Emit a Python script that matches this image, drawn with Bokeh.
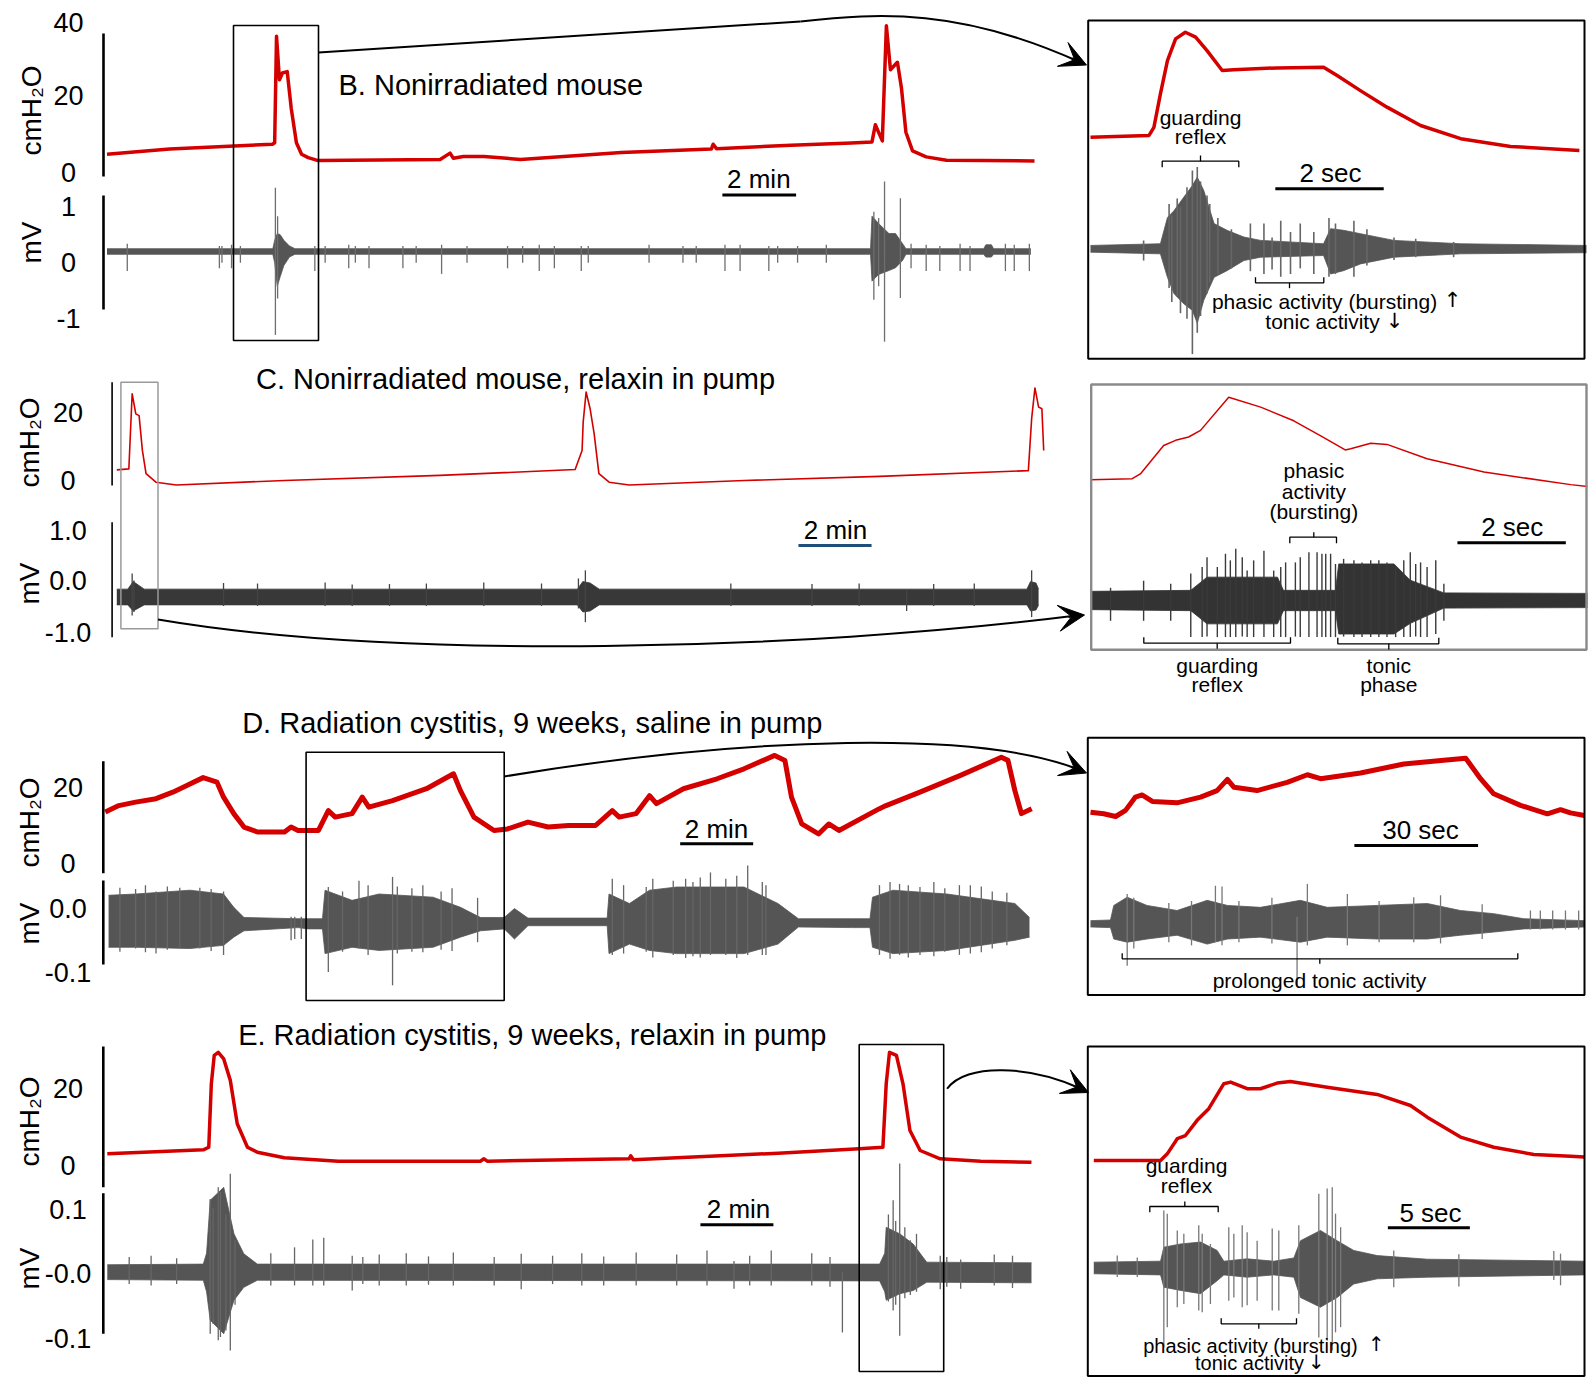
import numpy as np
from bokeh.plotting import figure
from bokeh.models import Range1d, Arrow, VeeHead
from bokeh.embed import file_html
from bokeh.resources import INLINE
from bokeh.core.properties import value

# ---------------------------------------------------------------- data
# Panel B (nonirradiated): time in min, pressure in cmH2O, EMG in mV
B_t = [0, 1.70, 4.49, 4.55, 4.60, 4.68, 4.76, 4.89, 5.00, 5.14, 5.28, 5.46, 5.73, 9.04, 9.31, 9.40, 9.67, 10.23, 11.22, 13.96,
       16.40, 16.45, 16.54, 18.56, 20.20, 20.76, 20.85, 21.04, 21.15, 21.26, 21.45, 21.56, 21.68, 21.86, 22.23, 22.78, 25.17]
B_p = [4.9, 6.3, 7.6, 8.0, 36.6, 24.9, 26.7, 27.1, 17.2, 8.0, 4.9, 4.0, 3.2, 3.5, 5.2, 3.8, 4.3, 4.3, 3.5, 5.4,
       6.3, 7.6, 6.4, 7.3, 7.9, 8.2, 12.8, 8.5, 39.4, 27.6, 29.6, 22.6, 10.8, 5.8, 4.2, 3.3, 3.1]
Bm_t = [0, 4.50, 4.55, 4.62, 4.70, 4.80, 4.95, 5.10, 20.72, 20.76, 20.94, 21.22, 21.40, 21.59, 21.68, 23.79, 23.85, 24.00, 24.06, 25.07]
Bm_hi = [0.05, 0.05, 0.2, 0.32, 0.30, 0.2, 0.1, 0.05, 0.05, 0.63, 0.50, 0.32, 0.32, 0.14, 0.05, 0.05, 0.12, 0.12, 0.05, 0.05]
Bm_lo = [-0.05, -0.05, -0.2, -0.62, -0.45, -0.25, -0.1, -0.05, -0.05, -0.53, -0.41, -0.34, -0.29, -0.16, -0.05, -0.05, -0.1, -0.1, -0.05, -0.05]
Bs_t = [0.55, 3.05, 3.12, 3.38, 3.62, 4.57, 4.63, 5.64, 5.92, 6.56, 6.74, 7.11, 8.03, 8.39, 9.08, 9.77, 10.87, 11.28, 11.73, 12.14,
        12.87, 13.06, 14.71, 15.63, 15.99, 16.77, 17.18, 17.96, 18.20, 18.74, 19.52, 20.81, 20.94, 21.10, 21.53, 21.82, 22.23, 22.60, 23.15, 23.42,
        24.38, 24.62, 25.03]
Bs_hi = [0.14, 0.1, 0.1, 0.12, 0.1, 1.14, 0.63, 0.1, 0.1, 0.12, 0.1, 0.1, 0.1, 0.1, 0.12, 0.1, 0.1, 0.1, 0.12, 0.1,
         0.1, 0.1, 0.12, 0.1, 0.1, 0.12, 0.12, 0.1, 0.1, 0.1, 0.12, 0.71, 0.6, 1.25, 0.95, 0.14, 0.12, 0.1, 0.14, 0.1,
         0.14, 0.12, 0.14]
Bs_lo = [-0.35, -0.3, -0.2, -0.3, -0.2, -1.49, -0.84, -0.35, -0.2, -0.3, -0.2, -0.3, -0.3, -0.2, -0.4, -0.2, -0.3, -0.2, -0.35, -0.3,
         -0.35, -0.2, -0.2, -0.2, -0.2, -0.35, -0.35, -0.35, -0.2, -0.2, -0.2, -0.86, -0.62, -1.61, -0.83, -0.3, -0.35, -0.35, -0.35, -0.35,
         -0.35, -0.35, -0.35]
# B inset: time in s
bI_t = [0, 1.08, 1.17, 1.29, 1.42, 1.57, 1.75, 1.94, 2.15, 2.43, 2.64, 3.44, 4.30, 4.55, 4.98, 5.47, 6.09, 6.83, 7.75, 9.02]
bI_p = [8.0, 8.5, 10.7, 19.8, 28.9, 34.8, 36.6, 35.3, 31.6, 26.2, 26.4, 26.9, 27.1, 24.8, 20.7, 16.2, 11.2, 7.6, 5.5, 4.4]
bIm_t = [0, 1.29, 1.42, 1.54, 1.72, 1.88, 1.97, 2.09, 2.28, 2.52, 2.83, 3.14, 4.30, 4.43, 4.67, 4.98, 5.60, 6.83, 9.15]
bIm_hi = [0.06, 0.09, 0.56, 0.68, 0.92, 1.13, 1.28, 1.04, 0.45, 0.33, 0.21, 0.15, 0.09, 0.36, 0.33, 0.27, 0.15, 0.09, 0.06]
bIm_lo = [-0.06, -0.09, -0.51, -0.80, -0.98, -1.10, -1.33, -0.92, -0.51, -0.39, -0.21, -0.15, -0.12, -0.45, -0.39, -0.27, -0.15, -0.09, -0.07]
bIs_t = [0.98, 1.45, 1.50, 1.60, 1.66, 1.78, 1.88, 1.97, 2.03, 2.15, 2.20, 2.35, 2.60, 2.95, 3.20, 3.35, 3.51, 3.69, 3.87, 4.12,
         4.40, 4.52, 4.86, 5.10, 5.60, 6.00, 6.70]
bIs_hi = [0.15, 0.8, 0.6, 0.9, 0.75, 1.1, 1.40, 1.46, 1.2, 0.95, 0.8, 0.55, 0.35, 0.45, 0.45, 0.2, 0.5, 0.3, 0.45, 0.3,
          0.55, 0.45, 0.5, 0.35, 0.2, 0.18, 0.12]
bIs_lo = [-0.21, -0.7, -0.95, -0.85, -1.15, -1.25, -1.88, -1.5, -1.2, -0.8, -0.6, -0.45, -0.35, -0.4, -0.45, -0.37, -0.5, -0.45, -0.35, -0.45,
          -0.5, -0.45, -0.5, -0.3, -0.2, -0.15, -0.15]

# Panel C (nonirradiated, relaxin)
C_t = [0, 0.33, 0.42, 0.52, 0.61, 0.70, 0.80, 1.07, 1.63, 4.59, 8.84, 12.54, 12.73, 12.76, 12.84, 12.95, 13.06, 13.19, 13.47, 14.02,
       17.17, 20.87, 24.94, 25.03, 25.12, 25.22, 25.31, 25.36]
C_p = [3.1, 3.4, 25.4, 19.5, 19.0, 8.8, 2.0, -0.5, -1.3, 0.0, 1.5, 3.2, 8.8, 17.1, 25.9, 21.0, 13.7, 2.0, -0.5, -1.3,
       0.0, 1.2, 2.9, 18.1, 27.1, 21.5, 21.0, 8.8]
Cm_t = [0, 0.30, 0.45, 0.75, 12.60, 12.75, 12.95, 13.2, 24.90, 25.0, 25.15, 25.22]
Cm_hi = [-0.17, -0.17, -0.02, -0.17, -0.17, -0.02, -0.05, -0.17, -0.17, -0.02, -0.05, -0.17]
Cm_lo = [-0.48, -0.48, -0.6, -0.48, -0.48, -0.62, -0.6, -0.48, -0.48, -0.6, -0.58, -0.48]
Cs_t = [0.42, 0.47, 2.92, 3.85, 5.70, 6.44, 7.46, 8.47, 10.04, 11.62, 12.63, 12.82, 16.80, 19.02, 20.31, 21.61, 22.35, 23.46, 25.03]
Cs_hi = [0.14, 0.0, -0.05, -0.06, -0.04, -0.08, -0.07, -0.06, -0.04, -0.06, 0.04, 0.2, -0.06, -0.07, -0.06, -0.2, -0.07, -0.06, 0.2]
Cs_lo = [-0.69, -0.62, -0.5, -0.5, -0.5, -0.5, -0.5, -0.5, -0.5, -0.5, -0.55, -0.82, -0.5, -0.5, -0.5, -0.6, -0.5, -0.5, -0.72]
# C inset
cI_t = [0, 0.77, 0.92, 1.35, 1.57, 1.81, 2.03, 2.55, 3.14, 3.75, 4.24, 4.70, 4.80, 5.17, 5.47, 6.21, 7.26, 8.86, 9.17]
cI_p = [3.0, 3.3, 4.6, 12.3, 13.7, 14.6, 16.4, 25.4, 22.7, 19.0, 15.0, 11.1, 11.4, 12.9, 12.6, 8.7, 5.1, 1.7, 1.2]
cIm_t = [0, 1.85, 2.15, 3.45, 3.56, 4.52, 4.58, 5.60, 5.90, 6.52, 9.17]
cIm_hi = [0.18, 0.2, 0.46, 0.46, 0.2, 0.2, 0.72, 0.72, 0.4, 0.15, 0.14]
cIm_lo = [-0.18, -0.2, -0.46, -0.46, -0.2, -0.2, -0.66, -0.66, -0.45, -0.15, -0.14]
cIs_t = [0.37, 0.98, 1.48, 1.85, 2.06, 2.15, 2.34, 2.49, 2.58, 2.68, 2.80, 2.89, 3.01, 3.20, 3.38, 3.51, 3.60, 3.78, 3.87, 4.03,
         4.18, 4.27, 4.34, 4.43, 4.52, 4.67, 4.86, 5.01, 5.17, 5.32, 5.47, 5.63, 5.78, 5.90, 6.00, 6.09, 6.21, 6.37, 6.52]
cIs_hi = [0.25, 0.39, 0.33, 0.53, 0.66, 0.85, 0.66, 0.92, 0.79, 1.02, 0.85, 0.59, 0.79, 0.98, 0.59, 0.66, 0.75, 0.75, 0.85, 0.95,
          0.95, 0.92, 0.92, 0.92, 0.72, 0.82, 0.79, 0.75, 0.79, 0.79, 0.75, 0.66, 0.79, 0.95, 0.72, 0.75, 0.66, 0.79, 0.33]
cIs_lo = [-0.40, -0.40, -0.40, -0.72, -0.72, -0.71, -0.72, -0.72, -0.72, -0.72, -0.71, -0.72, -0.72, -0.72, -0.72, -0.72, -0.72, -0.71, -0.72, -0.72,
          -0.72, -0.72, -0.72, -0.72, -0.72, -0.71, -0.72, -0.72, -0.72, -0.72, -0.72, -0.72, -0.72, -0.72, -0.71, -0.72, -0.72, -0.66, -0.40]

# Panel D (radiation cystitis, saline)
D_t = [0, 0.37, 0.83, 1.39, 1.85, 2.22, 2.68, 3.06, 3.24, 3.52, 3.80, 4.17, 4.91, 5.09, 5.28, 5.84, 6.11, 6.30, 6.76, 7.04,
       7.22, 7.87, 8.80, 9.54, 9.73, 10.10, 10.65, 11.02, 11.58, 12.13, 12.69, 13.43, 13.89, 14.08, 14.54, 14.91, 15.10, 15.84, 16.76, 17.50,
       18.34, 18.62, 18.80, 19.08, 19.54, 19.82, 20.10, 21.21, 21.39, 22.32, 23.43, 24.55, 24.73, 24.92, 25.10, 25.38]
D_p = [13.5, 15.2, 16.1, 17.0, 18.7, 20.4, 22.5, 21.3, 17.4, 13.1, 9.6, 8.3, 8.3, 9.6, 8.7, 8.7, 13.9, 12.2, 13.1, 17.4,
       14.8, 16.5, 19.6, 23.5, 19.1, 12.2, 8.7, 9.1, 10.9, 9.6, 10.0, 10.0, 13.9, 12.2, 13.1, 17.8, 15.7, 19.6, 22.2, 24.8,
       28.3, 27.0, 17.4, 10.4, 7.8, 10.4, 8.7, 14.4, 15.2, 18.7, 23.1, 27.8, 27.0, 19.1, 13.1, 14.4]
Dm_t = [0.09, 0.83, 2.32, 3.24, 3.52, 3.80, 5.28, 5.56, 5.95, 6.02, 6.76, 7.50, 8.98, 9.73, 10.28, 10.93, 11.21, 11.58, 13.43, 13.75,
        13.80, 14.36, 14.91, 15.65, 17.50, 18.43, 18.99, 20.47, 20.95, 21.02, 21.58, 23.06, 24.92, 25.32]
Dm_hi = [0.024, 0.026, 0.032, 0.026, 0.005, -0.011, -0.013, -0.013, -0.013, 0.032, 0.016, 0.026, 0.021, 0.005, -0.011, -0.011, 0.003, -0.012, -0.012, -0.012,
         0.026, 0.011, 0.032, 0.037, 0.037, 0.011, -0.013, -0.013, -0.013, 0.021, 0.032, 0.026, 0.011, -0.011]
Dm_lo = [-0.058, -0.058, -0.060, -0.055, -0.042, -0.032, -0.027, -0.029, -0.029, -0.068, -0.058, -0.063, -0.058, -0.042, -0.032, -0.029, -0.045, -0.024, -0.024, -0.024,
         -0.068, -0.053, -0.063, -0.068, -0.068, -0.053, -0.026, -0.027, -0.027, -0.058, -0.068, -0.063, -0.047, -0.042]
Ds_t = [0.40, 0.83, 1.10, 1.39, 1.70, 2.04, 2.59, 2.90, 3.24, 5.09, 5.19, 5.37, 6.11, 6.50, 6.95, 7.20, 7.87, 8.00, 8.40, 8.70,
        9.20, 9.50, 10.20, 13.89, 14.20, 14.82, 15.00, 15.56, 15.90, 16.10, 16.30, 16.58, 17.00, 17.30, 17.60, 18.00, 18.10, 21.21, 21.50, 21.76,
        22.00, 22.32, 22.70, 23.00, 23.40, 23.70, 24.00, 24.30, 24.70]
Ds_hi = [0.036, 0.034, 0.04, 0.03, 0.038, 0.036, 0.036, 0.034, 0.03, -0.01, -0.01, -0.01, 0.037, 0.03, 0.047, 0.04, 0.053, 0.038, 0.035, 0.04,
         0.03, 0.035, 0.02, 0.05, 0.04, 0.037, 0.05, 0.047, 0.05, 0.045, 0.052, 0.060, 0.05, 0.055, 0.071, 0.045, 0.04, 0.04, 0.045, 0.042,
         0.04, 0.037, 0.045, 0.035, 0.04, 0.04, 0.038, 0.03, 0.028]
Ds_lo = [-0.065, -0.06, -0.066, -0.068, -0.062, -0.06, -0.06, -0.064, -0.07, -0.047, -0.045, -0.045, -0.097, -0.065, -0.06, -0.07, -0.118, -0.068, -0.065, -0.066,
         -0.062, -0.064, -0.05, -0.07, -0.068, -0.065, -0.074, -0.07, -0.075, -0.072, -0.074, -0.07, -0.07, -0.075, -0.07, -0.07, -0.07, -0.07, -0.076, -0.07,
         -0.074, -0.07, -0.072, -0.065, -0.07, -0.068, -0.066, -0.06, -0.055]
# D inset
dI_t = [0, 3.2, 6.1, 8.5, 10.9, 12.5, 15.0, 21.0, 26.7, 30.7, 33.2, 34.8, 40.4, 47.7, 52.6, 55.8, 65.5, 76.0, 85.7, 91.0,
        94.6, 97.8, 104.3, 110.8, 114.0, 116.4, 119.8]
dI_p = [8.7, 8.25, 7.5, 9.2, 12.9, 13.5, 11.7, 11.3, 12.9, 14.7, 17.8, 15.6, 14.7, 17.0, 19.1, 18.0, 19.6, 22.1, 23.1, 23.7,
        18.0, 13.8, 10.6, 8.25, 9.4, 8.5, 7.8]
dIm_t = [0, 4.85, 5.65, 8.90, 13.7, 21.0, 28.3, 33.2, 41.2, 50.9, 57.4, 69.5, 81.7, 89.7, 97.8, 105.1, 119.8]
dIm_hi = [-0.016, -0.015, 0.008, 0.021, 0.008, 0.0, 0.016, 0.008, 0.005, 0.016, 0.005, 0.008, 0.011, 0.0, -0.005, -0.013, -0.016]
dIm_lo = [-0.026, -0.027, -0.045, -0.050, -0.045, -0.039, -0.053, -0.045, -0.042, -0.050, -0.042, -0.045, -0.045, -0.039, -0.034, -0.029, -0.026]
dIs_t = [8.9, 10.5, 19.0, 24.5, 30.3, 31.9, 36.0, 44.0, 50.1, 52.6, 62.3, 70.0, 78.4, 84.9, 95.0, 106.7, 109.1, 112.1, 115.2, 118.4]
dIs_hi = [0.026, 0.02, 0.012, 0.015, 0.039, 0.038, 0.015, 0.02, -0.01, 0.042, 0.026, 0.015, 0.021, 0.024, 0.01, 0.0, 0.0, 0.0, 0.0, 0.0]
dIs_lo = [-0.087, -0.06, -0.05, -0.055, -0.05, -0.055, -0.05, -0.052, -0.118, -0.055, -0.055, -0.05, -0.05, -0.052, -0.045, -0.03, -0.03, -0.03, -0.03, -0.03]

# Panel E (radiation cystitis, relaxin)
E_t = [0, 2.63, 2.78, 2.85, 2.93, 3.04, 3.19, 3.37, 3.56, 3.84, 4.11, 4.85, 6.33, 10.22, 10.32, 10.41, 14.30, 14.34, 14.41, 18.38,
       20.60, 21.25, 21.34, 21.43, 21.62, 21.80, 21.99, 22.27, 22.82, 23.93, 25.32]
E_p = [3.05, 4.09, 4.77, 21.3, 28.7, 29.5, 27.8, 22.2, 10.9, 4.77, 3.47, 2.0, 1.12, 1.12, 1.75, 1.12, 1.75, 2.53, 1.49, 3.21,
       4.35, 4.77, 21.3, 29.5, 28.7, 21.3, 9.13, 3.91, 1.75, 1.12, 0.86]
Em_t = [0, 2.63, 2.72, 2.82, 3.19, 3.47, 3.74, 4.11, 21.16, 21.30, 21.34, 21.71, 22.08, 22.45, 25.32]
Em_hi = [0.012, 0.013, 0.03, 0.112, 0.132, 0.06, 0.029, 0.013, 0.013, 0.03, 0.070, 0.06, 0.044, 0.016, 0.015]
Em_lo = [-0.011, -0.012, -0.03, -0.074, -0.095, -0.043, -0.023, -0.012, -0.013, -0.03, -0.043, -0.033, -0.028, -0.015, -0.016]
Es_t = [0.60, 1.20, 1.90, 2.82, 2.90, 3.04, 3.10, 3.25, 3.37, 3.50, 4.48, 5.13, 5.63, 5.93, 6.71, 7.00, 7.45, 8.19, 8.80, 9.48,
        10.60, 11.34, 12.20, 13.0, 13.60, 14.49, 15.6, 16.43, 17.17, 17.60, 18.19, 19.3, 19.80, 20.14, 21.40, 21.53, 21.60, 21.71, 21.85, 22.00,
        22.17, 22.82, 23.00, 23.38, 24.3, 24.80]
Es_hi = [0.024, 0.026, 0.022, 0.114, 0.10, 0.132, 0.125, 0.09, 0.153, 0.05, 0.03, 0.039, 0.051, 0.054, 0.026, 0.024, 0.028, 0.03, 0.025, 0.031,
         0.024, 0.029, 0.026, 0.03, 0.025, 0.031, 0.028, 0.034, 0.018, 0.026, 0.034, 0.03, 0.024, 0.0, 0.09, 0.112, 0.08, 0.169, 0.07, 0.05,
         0.06, 0.026, 0.024, 0.02, 0.028, 0.026]
Es_lo = [-0.018, -0.02, -0.018, -0.095, -0.08, -0.105, -0.10, -0.09, -0.121, -0.05, -0.02, -0.02, -0.02, -0.02, -0.028, -0.018, -0.02, -0.02, -0.019, -0.02,
         -0.02, -0.026, -0.018, -0.02, -0.02, -0.02, -0.02, -0.02, -0.025, -0.02, -0.02, -0.02, -0.022, -0.093, -0.045, -0.059, -0.05, -0.098, -0.04, -0.035,
         -0.03, -0.026, -0.022, -0.025, -0.02, -0.024]
# E inset
eI_t = [0, 4.07, 4.48, 5.09, 5.59, 6.30, 7.01, 7.93, 8.34, 9.35, 10.16, 11.18, 11.99, 14.23, 17.28, 19.31, 20.33, 22.36, 24.39, 26.83,
        29.07, 29.92]
eI_p = [4.5, 4.5, 6.6, 11.4, 12.4, 17.2, 20.9, 28.8, 29.3, 27.2, 27.2, 29.0, 29.5, 27.7, 25.4, 21.9, 18.2, 11.9, 8.7, 6.4,
        5.8, 5.6]
eIm_t = [0, 4.07, 4.27, 5.29, 6.51, 7.52, 7.93, 9.35, 10.98, 12.20, 12.60, 13.82, 14.84, 15.85, 17.28, 20.33, 29.92]
eIm_hi = [0.0078, 0.0093, 0.031, 0.036, 0.039, 0.026, 0.0093, 0.013, 0.0093, 0.0144, 0.041, 0.057, 0.041, 0.026, 0.018, 0.0124, 0.0093]
eIm_lo = [-0.0102, -0.0119, -0.031, -0.036, -0.041, -0.021, -0.0119, -0.0155, -0.0119, -0.0155, -0.047, -0.062, -0.047, -0.026, -0.018, -0.0155, -0.0119]
eIs_t = [1.43, 2.65, 4.27, 4.48, 5.09, 5.49, 6.40, 6.61, 7.11, 8.23, 8.54, 9.05, 9.35, 9.96, 10.88, 11.28, 12.50, 13.72, 14.23, 14.54,
         14.74, 15.05, 18.29, 22.26, 28.05, 28.46]
eIs_hi = [0.018, 0.015, 0.088, 0.083, 0.057, 0.052, 0.065, 0.052, 0.036, 0.062, 0.052, 0.065, 0.054, 0.041, 0.060, 0.057, 0.065, 0.114, 0.122, 0.124,
          0.083, 0.062, 0.026, 0.02, 0.025, 0.021]
eIs_lo = [-0.015, -0.015, -0.124, -0.093, -0.062, -0.057, -0.067, -0.070, -0.057, -0.052, -0.047, -0.062, -0.059, -0.052, -0.067, -0.067, -0.072, -0.109, -0.114, -0.129,
          -0.101, -0.093, -0.031, -0.03, -0.02, -0.028]

# tick labels
B_p_ticks = ["40", "20", "0"]
B_m_ticks = ["1", "0", "-1"]
C_p_ticks = ["20", "0"]
C_m_ticks = ["1.0", "0.0", "-1.0"]
D_p_ticks = ["20", "0"]
D_m_ticks = ["0.0", "-0.1"]
E_p_ticks = ["20", "0"]
E_m_ticks = ["0.1", "-0.0", "-0.1"]

# ---------------------------------------------------------------- layout
# layout space = figure pixels (1:1)
WR, HR = 1588, 1377
FONT = value("Liberation Sans")
AFONT = value("DejaVu Sans")
RED = "#d40000"

p = figure(width=WR, height=HR, x_range=Range1d(0, WR), y_range=Range1d(HR, 0),
           output_backend="svg", toolbar_location=None, min_border=0,
           x_axis_type=None, y_axis_type=None)
p.outline_line_color = None
p.background_fill_color = "white"
p.border_fill_color = "white"

xr, yr = {}, {}
def sx(name, x0, s):          # x0: layout position of data 0, s: layout px per unit
    xr[name] = Range1d(-x0 / s, (WR - x0) / s)
def sy(name, y0, s):          # y0: layout position of data 0, s: layout px per unit (upwards)
    yr[name] = Range1d((y0 - HR) / s, y0 / s)

sx("Bt", 106.5, 36.85); sy("Bp", 172, 3.725); sy("Bm", 251, 56)
sx("Ct", 116.3, 36.55); sy("Cp", 480, 3.415); sy("Cm", 580, 50.8)
sx("Dt", 104.8, 36.5); sy("Dp", 863.3, 3.83); sy("Dm", 910, 634)
sx("Et", 106.8, 36.5); sy("Ep", 1165, 3.835); sy("Em", 1272, 645)
sx("bt", 1090, 54.2); sy("bp", 166.1, 3.67); sy("bm", 248.3, 56)
sx("ct", 1090, 54.2); sy("cp", 490.4, 3.69); sy("cm", 600, 50.8)
sx("dt", 1090, 4.123); sy("dp", 843, 3.6); sy("dm", 910, 634)
sx("et", 1093.3, 16.4); sy("ep", 1174.2, 3.16); sy("em", 1266.7, 645)
p.extra_x_ranges = xr
p.extra_y_ranges = yr


def trace(tn, yn, t, v, w):
    p.line(t, v, x_range_name=tn, y_range_name=yn, line_color=RED, line_width=w, line_join="round")


def emg(tn, yn, et, hi, lo, st, shi, slo, band, spike, sw=1.3):
    p.varea(x=et, y1=lo, y2=hi, x_range_name=tn, y_range_name=yn, fill_color=band)
    p.line(et, hi, x_range_name=tn, y_range_name=yn, line_color=band, line_width=0.8)
    p.line(et, lo, x_range_name=tn, y_range_name=yn, line_color=band, line_width=0.8)
    p.segment(x0=st, y0=shi, x1=st, y1=slo, x_range_name=tn, y_range_name=yn,
              line_color=spike, line_width=sw)


trace("Bt", "Bp", B_t, B_p, 3.5)
emg("Bt", "Bm", Bm_t, Bm_hi, Bm_lo, Bs_t, Bs_hi, Bs_lo, "#555555", "#6e6e6e")
trace("bt", "bp", bI_t, bI_p, 3.5)
emg("bt", "bm", bIm_t, bIm_hi, bIm_lo, bIs_t, bIs_hi, bIs_lo, "#555555", "#666666", 1.6)

trace("Ct", "Cp", C_t, C_p, 1.6)
emg("Ct", "Cm", Cm_t, Cm_hi, Cm_lo, Cs_t, Cs_hi, Cs_lo, "#383838", "#444444")
trace("ct", "cp", cI_t, cI_p, 1.5)
emg("ct", "cm", cIm_t, cIm_hi, cIm_lo, cIs_t, cIs_hi, cIs_lo, "#333333", "#3a3a3a", 1.4)

trace("Dt", "Dp", D_t, D_p, 5)
emg("Dt", "Dm", Dm_t, Dm_hi, Dm_lo, Ds_t, Ds_hi, Ds_lo, "#555555", "#666666")
trace("dt", "dp", dI_t, dI_p, 5)
emg("dt", "dm", dIm_t, dIm_hi, dIm_lo, dIs_t, dIs_hi, dIs_lo, "#555555", "#777777")

trace("Et", "Ep", E_t, E_p, 3.5)
emg("Et", "Em", Em_t, Em_hi, Em_lo, Es_t, Es_hi, Es_lo, "#555555", "#666666")
trace("et", "ep", eI_t, eI_p, 3.5)
emg("et", "em", eIm_t, eIm_hi, eIm_lo, eIs_t, eIs_hi, eIs_lo, "#555555", "#777777")

# axis lines (left panels)
p.segment(x0=[103, 103, 102.8, 102.8, 102.8, 102.8], x1=[103, 103, 102.8, 102.8, 102.8, 102.8],
          y0=[33, 195, 760.7, 880, 1046, 1192.7], y1=[176, 309, 872.7, 964, 1186.7, 1333.3],
          line_color="black", line_width=2.6)
p.segment(x0=[111.6, 111.6], x1=[111.6, 111.6], y0=[381.7, 521.7], y1=[485, 636.7],
          line_color="black", line_width=1.6)

def txt(xs, ys, ss, size, align="center", angle=0.0, font=FONT):
    p.text(x=xs, y=ys, text=ss, text_font=font, text_font_size=size, text_align=align,
           text_baseline="middle", angle=angle, text_color="black")

# tick labels
txt([68] * 3, [22, 95, 172], B_p_ticks, "27px")
txt([68] * 3, [206, 262, 318], B_m_ticks, "27px")
txt([67.6] * 2, [411.7, 480], C_p_ticks, "27px")
txt([67.6] * 3, [530, 580, 631.7], C_m_ticks, "27px")
txt([67.6] * 2, [786.7, 863.3], D_p_ticks, "27px")
txt([67.6] * 2, [908.3, 971.7], D_m_ticks, "27px")
txt([67.6] * 2, [1088.3, 1165], E_p_ticks, "27px")
txt([67.6] * 3, [1209.3, 1273.3, 1338.3], E_m_ticks, "27px")
txt([31, 29, 29, 29], [110, 442, 822, 1121], ["cmH₂O"] * 4, "28px", angle=np.pi / 2)
txt([31, 29, 29, 29], [242, 583, 923, 1268], ["mV"] * 4, "28px", angle=np.pi / 2)

# titles
txt([338], [84], ["B. Nonirradiated mouse"], "29px", align="left")
txt([515, 531.8, 531.8], [378, 722, 1034],
    ["C. Nonirradiated mouse, relaxin in pump",
     "D. Radiation cystitis, 9 weeks, saline in pump",
     "E. Radiation cystitis, 9 weeks, relaxin in pump"], "29px")

# scale bars (in data units of each panel)
def bar(tn, t0, length, ypix, color="black"):
    p.segment(x0=[t0], x1=[t0 + length], y0=[ypix], y1=[ypix], x_range_name=tn,
              line_color=color, line_width=3)

bar("Bt", 16.70, 2, 194.4); txt([758.3], [178], ["2 min"], "26px")
bar("Ct", 18.65, 2, 545, "#1f4e79"); txt([835], [529], ["2 min"], "26px")
bar("Dt", 15.75, 2, 843.3); txt([716], [828.5], ["2 min"], "26px")
bar("Et", 16.25, 2, 1224.3); txt([738], [1208], ["2 min"], "26px")
bar("bt", 3.41, 2, 188.3); txt([1330], [172], ["2 sec"], "26px")
bar("ct", 6.77, 2, 542.3); txt([1511.7], [526], ["2 sec"], "26px")
bar("dt", 64.0, 30, 845); txt([1420], [829], ["30 sec"], "26px")
bar("et", 17.93, 5, 1227.3); txt([1430], [1212], ["5 sec"], "26px")

# boxes
def box(l, r, t, b, color, w):
    p.quad(left=[l], right=[r], top=[t], bottom=[b], fill_color=None, line_color=color, line_width=w)

box(233, 318, 25, 340, "black", 1.6)
box(120.4, 157.5, 381.7, 628.3, "#9a9a9a", 1.5)
box(305.6, 503.7, 751.7, 1000, "black", 1.6)
box(858.7, 943.2, 1044, 1371, "black", 1.6)
box(1087.7, 1584, 20, 358.3, "black", 2)
box(1090.7, 1586, 384, 649.3, "#8a8a8a", 2.4)
box(1087.3, 1584, 737.3, 994.6, "black", 2)
box(1087.3, 1584, 1046, 1375.5, "black", 2)

# connectors
p.segment(x0=[318], y0=[52], x1=[800], y1=[21], line_color="black", line_width=2)
p.bezier(x0=[800, 157.5, 503.7, 946.6], y0=[21, 619, 776, 1088.3],
         x1=[1078, 1076, 1078, 1080], y1=[61, 615, 769, 1088],
         cx0=[880, 400, 750, 965], cy0=[12, 660, 735, 1062],
         cx1=[960, 800, 980, 1030], cy1=[8, 650, 730, 1065],
         line_color="black", line_width=2)
for (xa, ya, xb, yb) in [(1071.4, 58, 1086, 64.5), (1068, 616.5, 1084, 614.5),
                         (1071, 766.6, 1086, 772.5), (1073.5, 1085.3, 1088, 1092)]:
    p.add_layout(Arrow(end=VeeHead(size=26, fill_color="black", line_color="black"),
                       x_start=xa, y_start=ya, x_end=xb, y_end=yb, line_width=2, line_color="black"))

# brackets
def bracket(x1, x2, y, yend, xm, ytick):
    p.multi_line(xs=[[x1, x1, x2, x2], [xm, xm]], ys=[[yend, y, y, yend], [y, ytick]],
                 line_color="black", line_width=1.3)

bracket(1161.7, 1238.3, 160.7, 166.7, 1200, 155)
bracket(1255, 1323.3, 282.3, 276.7, 1289, 287.7)
bracket(1289.3, 1336, 536.7, 542.7, 1313.3, 531.7)
bracket(1143.3, 1290, 642.7, 636.7, 1216.7, 648.3)
bracket(1337.3, 1438.3, 643.3, 637.3, 1388.3, 649)
bracket(1121.7, 1517.3, 958.3, 952.7, 1319.3, 963.3)
bracket(1149.3, 1217.7, 1206, 1211.7, 1184.3, 1201)
bracket(1220.7, 1296, 1323.3, 1317.7, 1258.3, 1328.3)

# annotation texts
txt([1200, 1200], [117, 135.5], ["guarding", "reflex"], "21px")
txt([1324, 1322], [301, 321], ["phasic activity (bursting)", "tonic activity"], "21px")
txt([1452, 1394], [299, 320], ["\u2191", "\u2193"], "21px", font=AFONT)
txt([1313.3, 1313.3, 1313.3], [470, 490.5, 511], ["phasic", "activity", "(bursting)"], "21px")
txt([1216.7, 1216.7, 1388.3, 1388.3], [665, 684, 665, 684], ["guarding", "reflex", "tonic", "phase"], "21px")
txt([1319], [980], ["prolonged tonic activity"], "21px")
txt([1186, 1186], [1165, 1185], ["guarding", "reflex"], "21px")
txt([1250, 1249], [1345, 1362], ["phasic activity (bursting)", "tonic activity"], "20px")
txt([1376, 1316], [1343, 1361], ["\u2191", "\u2193"], "20px", font=AFONT)

open("out.html", "w").write(file_html(p, INLINE))
